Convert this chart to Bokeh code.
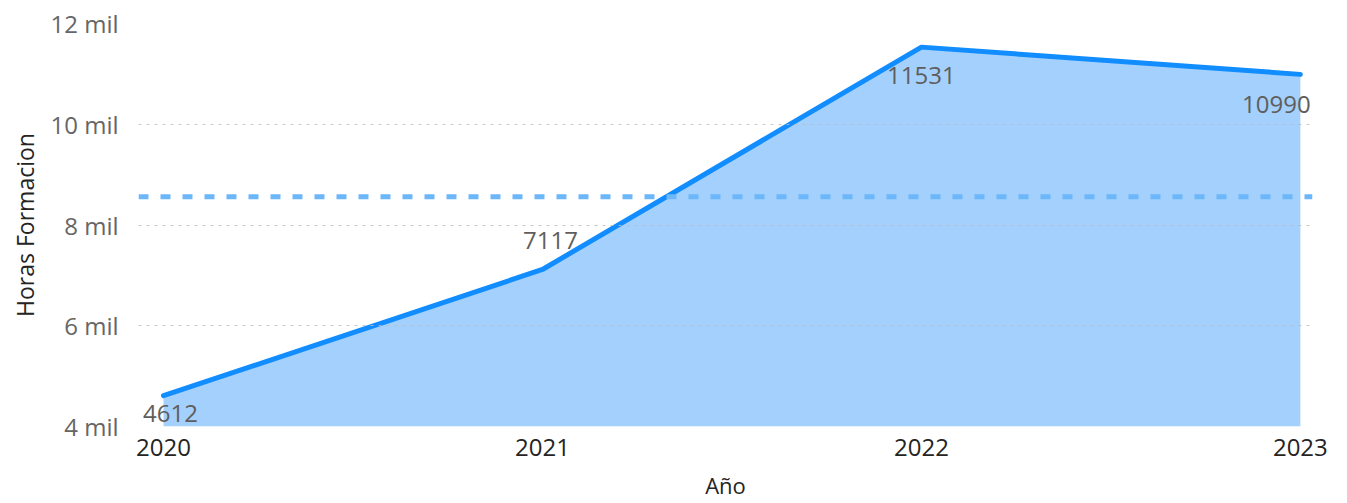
from bokeh.plotting import figure
from bokeh.models import ColumnDataSource, LabelSet, Span, FixedTicker, Range1d
from bokeh.core.properties import value
from bokeh.embed import file_html
from bokeh.resources import INLINE

# ---- data ----
years = [2020, 2021, 2022, 2023]
horas = [4612, 7117, 11531, 10990]
y_ticks = [4000, 6000, 8000, 10000, 12000]
y_tick_labels = ["4 mil", "6 mil", "8 mil", "10 mil", "12 mil"]
x_tick_labels = ["2020", "2021", "2022", "2023"]
avg = sum(horas) / len(horas)

# label placement (screen pixel offsets)
lab_dx = [7, 8, 0, -24]
lab_dy = [-18, 29, -28, -30]

FONT = "Open Sans"

p = figure(frame_width=1174, frame_height=403, output_backend="svg", toolbar_location=None,
           x_range=Range1d(2019.934, 2023.032), y_range=Range1d(4000, 12000),
           min_border_left=138, min_border_right=35, min_border_top=23,
           min_border_bottom=77)
p.outline_line_color = None
p.background_fill_color = "white"
p.border_fill_color = "white"

base = [y_ticks[0]] * len(years)
src = ColumnDataSource(dict(x=years, y=horas, base=base,
                            txt=[str(v) for v in horas], dx=lab_dx, dy=lab_dy))

p.varea(x="x", y1="base", y2="y", source=src, fill_color="#a3d0fc", fill_alpha=1.0)
p.line(x="x", y="y", source=src, line_color="#118dff", line_width=5,
       line_join="round", line_cap="round")

p.add_layout(Span(location=avg, dimension="width", line_color="#6cb6fa",
                  line_width=5, line_dash="10 12"))

labels = LabelSet(x="x", y="y", text="txt", x_offset="dx", y_offset="dy", source=src,
                  text_align="center", text_baseline="middle",
                  text_font=value(FONT), text_font_size=value("24px"),
                  text_color="#605e5c")
p.add_layout(labels)

# grid
p.xgrid.grid_line_color = None
p.ygrid.ticker = FixedTicker(ticks=y_ticks)
p.ygrid.grid_line_color = "#bdbdbd"
p.ygrid.grid_line_alpha = 0.8
p.ygrid.grid_line_dash = "3 5"
p.ygrid.grid_line_width = 1
p.ygrid.level = "annotation"

# axes
p.yaxis.ticker = FixedTicker(ticks=y_ticks)
p.yaxis.major_label_overrides = {t: l for t, l in zip(y_ticks, y_tick_labels)}
p.xaxis.ticker = FixedTicker(ticks=years)
p.xaxis.major_label_overrides = {t: l for t, l in zip(years, x_tick_labels)}

for ax in (p.xaxis[0], p.yaxis[0]):
    ax.axis_line_color = None
    ax.major_tick_line_color = None
    ax.minor_tick_line_color = None
    ax.major_tick_out = 0
    ax.major_tick_in = 0
    ax.major_label_text_font = FONT
    ax.axis_label_text_font = FONT
    ax.axis_label_text_font_style = "normal"
    ax.axis_label_text_color = "#252423"

p.yaxis.major_label_text_font_size = "24px"
p.yaxis.major_label_text_color = "#666666"
p.yaxis.major_label_standoff = 20
p.yaxis.axis_label = "Horas Formacion"
p.yaxis.axis_label_text_font_size = "23px"
p.yaxis.axis_label_standoff = 6

p.xaxis.major_label_text_font_size = "24px"
p.xaxis.major_label_text_color = "#252423"
p.xaxis.major_label_standoff = 12
p.xaxis.axis_label = "Año"
p.xaxis.axis_label_text_font_size = "22px"
p.xaxis.axis_label_standoff = 11

open("out.html", "w").write(file_html(p, INLINE))
